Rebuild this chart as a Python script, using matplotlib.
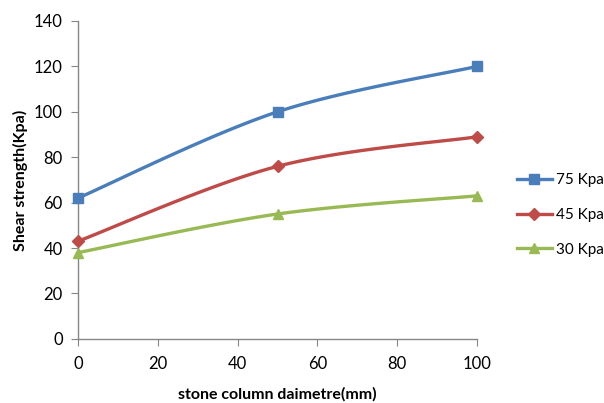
import numpy as np
import matplotlib
matplotlib.use("Agg")
import matplotlib.pyplot as plt

diameter = [0, 50, 100]
s75 = [62, 100, 120]
s45 = [43, 76, 89]
s30 = [38, 55, 63]
labels = ["75 Kpa", "45 Kpa", "30 Kpa"]
colors = ["#4a7ebb", "#be4b48", "#98b954"]
markers = ["s", "D", "^"]

def smooth(x, y, n=60):
    x = np.asarray(x, float); y = np.asarray(y, float)
    px = np.concatenate([[x[0]], x, [x[-1]]])
    py = np.concatenate([[y[0]], y, [y[-1]]])
    xs, ys = [], []
    for i in range(1, len(px) - 2):
        p0 = np.array([px[i], py[i]]); p3 = np.array([px[i+1], py[i+1]])
        p1 = p0 + (np.array([px[i+1], py[i+1]]) - np.array([px[i-1], py[i-1]])) / 6
        p2 = p3 - (np.array([px[i+2], py[i+2]]) - np.array([px[i], py[i]])) / 6
        t = np.linspace(0, 1, n)[:, None]
        b = (1-t)**3*p0 + 3*(1-t)**2*t*p1 + 3*(1-t)*t**2*p2 + t**3*p3
        xs.append(b[:, 0]); ys.append(b[:, 1])
    return np.concatenate(xs), np.concatenate(ys)

plt.rcParams['font.family'] = ['Lato', 'DejaVu Sans']
fig = plt.figure(figsize=(6.04, 4.03), dpi=100)
ax = fig.add_axes([0.129, 0.159, 0.661, 0.789])

handles = []
for ys, lab, c, m in zip([s75, s45, s30], labels, colors, markers):
    sx, sy = smooth(diameter, ys)
    ax.plot(sx, sy, color=c, lw=2.4, solid_capstyle='round', zorder=2)
    ax.plot(diameter, ys, linestyle='none', marker=m, color=c,
            markersize=7.5 if m != 'D' else 6, zorder=3, clip_on=False)
    h, = ax.plot([], [], color=c, lw=2.4, marker=m,
                 markersize=7.5 if m != 'D' else 6)
    handles.append(h)

ax.set_xlim(0, 100)
ax.set_ylim(0, 140)
ax.set_xticks(range(0, 101, 20))
ax.set_yticks(range(0, 141, 20))
for s in ['top', 'right']:
    ax.spines[s].set_visible(False)
for s in ['left', 'bottom']:
    ax.spines[s].set_color('#868686')
    ax.spines[s].set_linewidth(1)
ax.tick_params(direction='out', color='#868686', length=5, labelsize=12,
               labelcolor='black')
ax.tick_params(axis='x', pad=7)
ax.tick_params(axis='y', pad=6)
ax.set_xlabel('stone column daimetre(mm)', fontsize=11.5, fontweight='bold', labelpad=11)
ax.set_ylabel('Shear strength(Kpa)', fontsize=11.5, fontweight='bold', labelpad=4)

fig.legend(handles, labels, loc='center left', bbox_to_anchor=(0.833, 0.4665),
           frameon=False, fontsize=11, handlelength=2.3, handletextpad=0.25,
           labelspacing=1.35, borderpad=0.4)

fig.savefig('out.png', dpi=100)
